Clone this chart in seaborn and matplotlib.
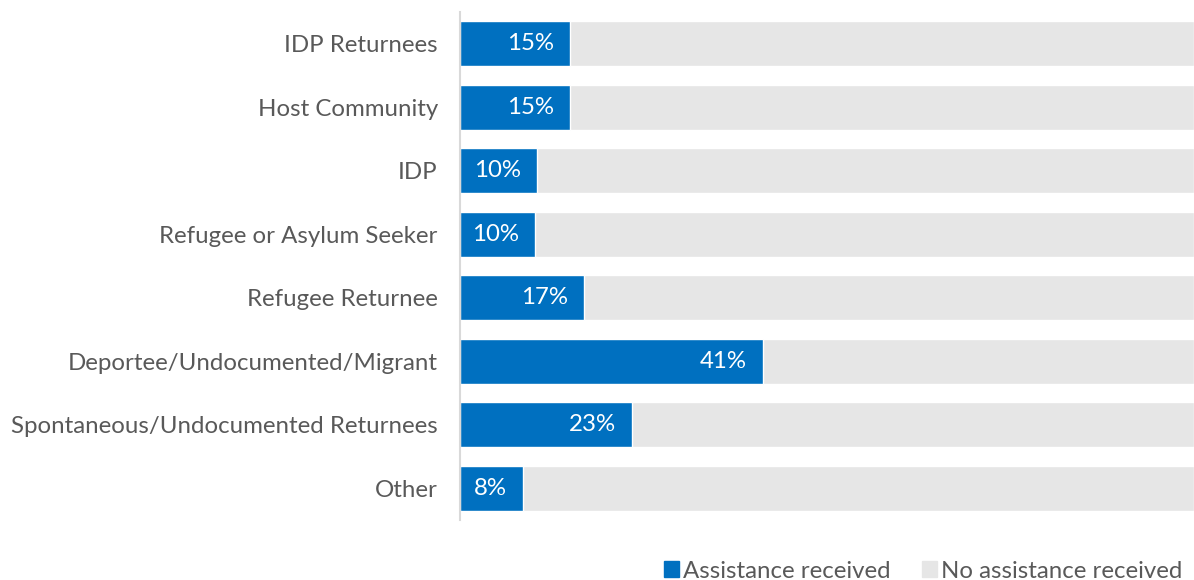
import pandas as pd
import seaborn as sns
import matplotlib.pyplot as plt
from matplotlib.patches import Patch

categories = [
    "IDP Returnees",
    "Host Community",
    "IDP",
    "Refugee or Asylum Seeker",
    "Refugee Returnee",
    "Deportee/Undocumented/Migrant",
    "Spontaneous/Undocumented Returnees",
    "Other",
]
# bar lengths (labels are the rounded values)
assisted = [15.0, 15.0, 10.5, 10.2, 16.9, 41.3, 23.4, 8.6]
labels = ["15%", "15%", "10%", "10%", "17%", "41%", "23%", "8%"]
total = [100] * len(categories)

BLUE = "#0070C0"
GREY = "#E6E6E6"
TEXT = "#595959"
FS = 17.3

sns.set_theme(style="white")
plt.rcParams['font.family'] = ['Lato', 'DejaVu Sans']

df = pd.DataFrame({"group": categories, "assisted": assisted, "total": total})

fig = plt.figure(figsize=(11.94, 5.8), dpi=100)
ax = fig.add_axes([0.3853, 0.1034, 0.6147, 0.8756])

sns.barplot(data=df, y="group", x="total", color=GREY, width=0.71,
            saturation=1, ax=ax)
sns.barplot(data=df, y="group", x="assisted", color=BLUE, width=0.71,
            saturation=1, ax=ax)

for i, (val, lab) in enumerate(zip(assisted, labels)):
    ax.text(val - 2.2, i, lab, ha="right", va="center", color="white",
            fontsize=FS)

ax.set_xlim(0, 100)
ax.set_ylim(7.5, -0.5)
ax.set_xlabel("")
ax.set_ylabel("")
ax.set_xticks([])
ax.tick_params(axis="y", length=0, pad=16, labelsize=FS, labelcolor=TEXT)
for side in ["top", "right", "bottom"]:
    ax.spines[side].set_visible(False)
ax.spines["left"].set_color("#D9D9D9")
ax.spines["left"].set_linewidth(1.5)

handles = [Patch(color=BLUE, label="Assistance received"),
           Patch(color=GREY, label="No assistance received")]
leg = fig.legend(handles=handles, loc="lower right",
                 bbox_to_anchor=(1.0084, -0.04), ncol=2, frameon=False,
                 fontsize=FS, handlelength=0.65, handleheight=0.65,
                 handletextpad=0.15, columnspacing=1.3)
for t in leg.get_texts():
    t.set_color(TEXT)

fig.savefig("out.png", dpi=100)
